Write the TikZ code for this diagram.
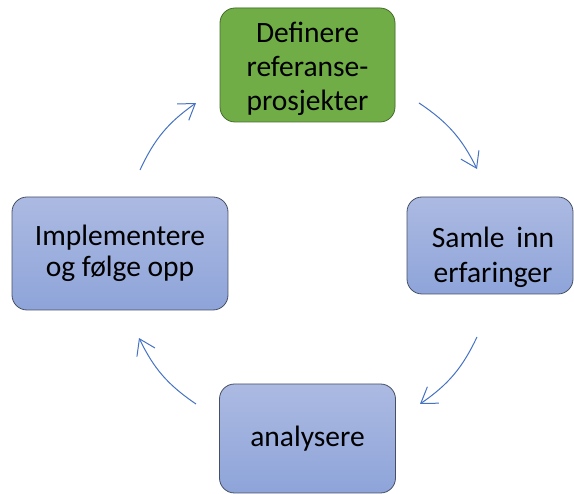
\documentclass[tikz,border=0pt]{standalone}
\usepackage{fontspec}
\setmainfont{Carlito}
\usepackage{xcolor}
\definecolor{stepgreen}{RGB}{112,173,71}
\definecolor{stepgreenline}{RGB}{70,110,45}
\definecolor{steptop}{RGB}{172,186,226}
\definecolor{stepbottom}{RGB}{142,164,217}
\definecolor{stepline}{RGB}{70,80,100}
\definecolor{cyclearrow}{RGB}{68,114,196}
\usetikzlibrary{arrows.meta}

\begin{document}
\begin{tikzpicture}[x=1pt,y=-1pt,
    stepbox/.style={draw=stepline,line width=0.8pt,rounded corners=15pt,
      top color=steptop,bottom color=stepbottom,inner sep=0pt},
    greenbox/.style={stepbox,draw=stepgreenline,fill=stepgreen,
      top color=stepgreen,bottom color=stepgreen},
    steptext/.style={align=center,inner sep=0pt,font=\fontsize{29.5}{34}\selectfont},
    loopline/.style={cyclearrow,line width=1pt,
      -{Straight Barb[length=15pt,width=20pt,line width=1pt]}}]
        % Frame
        \useasboundingbox (0,0) rectangle (574,494);
        % Steps
        \node[greenbox,minimum width=175pt,minimum height=114pt] (def) at (307.5,65) {};
        \node[stepbox,minimum width=166pt,minimum height=97pt] (samle) at (490,245.5) {};
        \node[stepbox,minimum width=176pt,minimum height=109pt] (anal) at (307.5,438.5) {};
        \node[stepbox,minimum width=216pt,minimum height=113pt] (impl) at (120,253.5) {};
        % Texts
        \node[steptext] (def text) at ([yshift=-4pt]def.center)
            {Definere\\referanse-\\prosjekter};
        \node[steptext,font=\fontsize{29.5}{35}\selectfont] (samle text)
            at ([xshift=3pt,yshift=-12pt]samle.center) {Samle\hspace{0.4em}inn\\erfaringer};
        \node[steptext] (anal text) at (anal.center) {analysere};
        \node[steptext,font=\fontsize{29.5}{31}\selectfont] (impl text) at (impl.center)
            {Implementere\\og følge opp};
        % Arrow ends
        \coordinate (a1) at (419,103);
        \coordinate (b1) at (477,169);
        \coordinate (a2) at (477,337);
        \coordinate (b2) at (420,404);
        \coordinate (a3) at (196,404);
        \coordinate (b3) at (139,338);
        \coordinate (a4) at (140,170);
        \coordinate (b4) at (196,103);
        % Cycle
        \draw[loopline] (a1) to[bend left=15] (b1);
        \draw[loopline] (a2) to[bend left=15] (b2);
        \draw[loopline] (a3) to[bend left=15] (b3);
        \draw[loopline] (a4) to[bend left=15] (b4);
\end{tikzpicture}
\end{document}
